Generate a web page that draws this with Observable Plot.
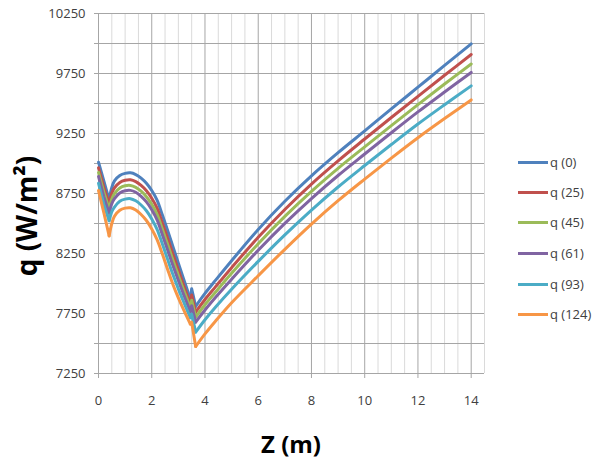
<!DOCTYPE html>
<html><head><meta charset="utf-8">
<script src="https://cdn.jsdelivr.net/npm/d3@7"></script>
<script src="https://cdn.jsdelivr.net/npm/@observablehq/plot@0.6"></script>
<style>
body{margin:0;background:#fff;}
#wrap{position:relative;width:598px;height:461px;font-family:"Open Sans",sans-serif;overflow:hidden;}
#wrap svg{position:absolute;left:0;top:0;}
.ttl{position:absolute;font-weight:bold;color:#000;white-space:nowrap;}
#xt{left:291px;top:443px;transform:translate(-50%,-50%);font-size:24px;}
#yt{left:26px;top:216px;transform:translate(-50%,-50%) rotate(-90deg);font-size:28px;}
#legend{position:absolute;left:518px;top:0;font-size:13px;color:#404040;}
.li{position:absolute;left:0;height:20px;display:flex;align-items:center;white-space:nowrap;transform:translateY(-50%);}
.sw{width:30px;height:3px;margin-right:2px;}
</style></head><body><div id="wrap"></div>
<script>
const z    = [0, 0.2, 0.4, 0.5, 0.6, 0.8, 1.0, 1.2, 1.4, 1.6, 1.8, 2.0, 2.2, 2.4, 2.6, 2.8, 3.0, 3.2, 3.45, 3.5, 3.65, 4.0, 4.4, 5, 6, 7, 8, 9, 10, 11, 12, 13, 14];
const q0   = [9011, 8855, 8697, 8800, 8855, 8900, 8918, 8922, 8908, 8878, 8835, 8775, 8695, 8570, 8440, 8305, 8170, 8035, 7872, 7956, 7810, 7918, 8028, 8190, 8450, 8685, 8897, 9090, 9272, 9455, 9636, 9817, 9997];
const q25  = [8964, 8802, 8664, 8752, 8796, 8842, 8860, 8864, 8849, 8817, 8773, 8711, 8629, 8505, 8375, 8242, 8112, 7984, 7835, 7905, 7762, 7867, 7974, 8132, 8385, 8617, 8829, 9022, 9204, 9383, 9560, 9735, 9908];
const q45  = [8926, 8760, 8619, 8704, 8749, 8796, 8814, 8817, 8801, 8769, 8723, 8660, 8576, 8453, 8323, 8192, 8066, 7943, 7800, 7860, 7720, 7823, 7929, 8085, 8331, 8559, 8768, 8960, 9139, 9316, 9491, 9662, 9829];
const q61  = [8893, 8722, 8586, 8665, 8707, 8755, 8773, 8776, 8760, 8726, 8680, 8615, 8530, 8407, 8277, 8147, 8025, 7907, 7765, 7815, 7678, 7779, 7885, 8036, 8277, 8501, 8708, 8900, 9079, 9256, 9430, 9596, 9759];
const q93  = [8836, 8659, 8523, 8599, 8637, 8685, 8703, 8707, 8689, 8654, 8606, 8538, 8451, 8329, 8199, 8072, 7955, 7846, 7715, 7745, 7595, 7698, 7804, 7952, 8184, 8405, 8612, 8804, 8983, 9158, 9329, 9490, 9647];
const q124 = [8775, 8590, 8397, 8500, 8560, 8610, 8628, 8631, 8612, 8575, 8525, 8455, 8365, 8245, 8115, 7990, 7880, 7780, 7662, 7678, 7475, 7580, 7688, 7840, 8065, 8285, 8495, 8690, 8870, 9045, 9215, 9375, 9530];

const seriesNames = ["q (0)", "q (25)", "q (45)", "q (61)", "q (93)", "q (124)"];
const seriesValues = [q0, q25, q45, q61, q93, q124];
const colors = ["#4F81BD", "#C0504D", "#9BBB59", "#8064A2", "#4BACC6", "#F79646"];

// z-ranges drawn as smooth curves; the rest (sharp V and spike) as straight segments
const smoothSpans = [[0.4, 3.45], [3.65, 14]];
const sharpSpans = [[0, 0.4], [3.45, 3.65]];

const xTicks = [0, 2, 4, 6, 8, 10, 12, 14];
const xMinor = [0.5, 1, 1.5, 2.5, 3, 3.5, 4.5, 5, 5.5, 6.5, 7, 7.5, 8.5, 9, 9.5, 10.5, 11, 11.5, 12.5, 13, 13.5, 14.5];
const yLabels = [7250, 7750, 8250, 8750, 9250, 9750, 10250];
const yGrid = [7250, 7500, 7750, 8000, 8250, 8500, 8750, 9000, 9250, 9500, 9750, 10000, 10250];

function spanRows(values, spans) {
  const rows = [];
  spans.forEach(([a, b], k) => {
    z.forEach((zz, j) => { if (zz >= a && zz <= b) rows.push({z: zz, q: values[j], seg: k}); });
  });
  return rows;
}

const lineMarks = [];
seriesValues.forEach((vals, i) => {
  lineMarks.push(Plot.line(spanRows(vals, sharpSpans), {x: "z", y: "q", z: "seg", stroke: colors[i], strokeWidth: 3, strokeLinejoin: "round", strokeLinecap: "round", curve: "linear"}));
  lineMarks.push(Plot.line(spanRows(vals, smoothSpans), {x: "z", y: "q", z: "seg", stroke: colors[i], strokeWidth: 3, strokeLinejoin: "round", strokeLinecap: "round", curve: "catmull-rom"}));
});

const chart = Plot.plot({
  width: 598, height: 461,
  marginLeft: 98, marginRight: 114, marginTop: 13, marginBottom: 88,
  x: {domain: [0, 14.5]},
  y: {domain: [7250, 10250]},
  style: {fontFamily: "Open Sans, sans-serif", fontSize: "13px", background: "transparent", overflow: "visible"},
  marks: [
    Plot.ruleX(xMinor, {stroke: "#dadada", strokeWidth: 1}),
    Plot.ruleX(xTicks, {stroke: "#a6a6a6", strokeWidth: 1}),
    Plot.ruleY(yGrid, {stroke: "#a6a6a6", strokeWidth: 1}),
    Plot.axisY(yGrid, {tickSize: 4, tickPadding: 9, stroke: "#a6a6a6", fill: "#404040",
      tickFormat: d => yLabels.includes(d) ? String(d) : "", label: null}),
    Plot.axisX(xTicks, {tickSize: 5, tickPadding: 17, stroke: "#a6a6a6", fill: "#404040",
      tickFormat: d => String(d), label: null}),
    ...lineMarks
  ]
});

const wrap = document.getElementById("wrap");
wrap.appendChild(chart);

const xt = document.createElement("div"); xt.className = "ttl"; xt.id = "xt"; xt.textContent = "Z (m)"; wrap.appendChild(xt);
const yt = document.createElement("div"); yt.className = "ttl"; yt.id = "yt"; yt.textContent = "q (W/m²)"; wrap.appendChild(yt);

const legend = document.createElement("div"); legend.id = "legend";
const legendTops = [162, 192, 222, 253, 284, 314];
seriesNames.forEach((s, i) => {
  const item = document.createElement("div"); item.className = "li"; item.style.top = legendTops[i] + "px";
  const sw = document.createElement("span"); sw.className = "sw"; sw.style.background = colors[i];
  const tx = document.createElement("span"); tx.textContent = s;
  item.appendChild(sw); item.appendChild(tx); legend.appendChild(item);
});
wrap.appendChild(legend);
</script></body></html>
